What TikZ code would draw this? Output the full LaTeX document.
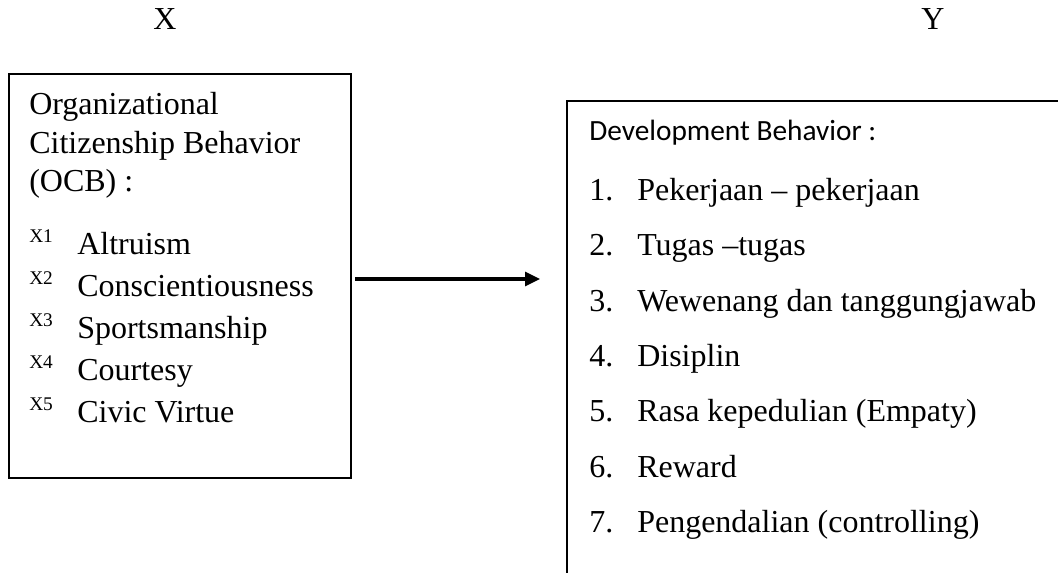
\documentclass[tikz,border=0pt]{standalone}
\usepackage{fontspec}
\setmainfont{Liberation Serif}
\newfontfamily\calfont{Carlito}
\usetikzlibrary{arrows.meta}
\begin{document}
\begin{tikzpicture}[x=0.75pt,y=-0.75pt,
  txt/.style={anchor=base west, inner sep=0pt, font=\fontsize{24}{28}\selectfont},
  lab/.style={anchor=base, inner sep=0pt, font=\fontsize{24}{28}\selectfont},
  supx/.style={anchor=base west, inner sep=0pt, font=\fontsize{14.5}{16}\selectfont},
  cal/.style={anchor=base west, inner sep=0pt, font=\calfont\fontsize{22}{26}\selectfont},
  boxstyle/.style={draw, line width=1.5pt, inner sep=0pt},
  openbox/.style={line width=1.1pt},
  arr/.style={line width=2.3pt, -{Triangle[length=11.25pt,width=10.5pt]}, shorten <=2.25pt}
]
\useasboundingbox (0,0) rectangle (1058,573);

% axis labels
\node[lab] (xlab) at (165,30) {X};
\node[lab] (ylab) at (933,30) {Y};

% left box
\node[boxstyle, minimum width=256.5pt, minimum height=303pt] (lbox) at (180,276) {};
\node[txt] (h1) at (29,115) {Organizational};
\node[txt] (h2) at (29,153.5) {Citizenship Behavior};
\node[txt] (h3) at (29,192) {(OCB) :};
\foreach \t [count=\i] in {Altruism,Conscientiousness,Sportsmanship,Courtesy,Civic Virtue} {
  \node[supx] (xl\i) at (29,{243+42*(\i-1)}) {X\i};
  \node[txt] (it\i) at (77,{255+42*(\i-1)}) {\t};
}

% right (open) box
\coordinate (rtr) at (1062,101);
\coordinate (rtl) at (567,101);
\coordinate (rbl) at (567,577);
\draw[openbox] (rtr) -- (rtl) -- (rbl);
\node[cal] (dev) at (589,141) {Development Behavior :};
\foreach \t [count=\i] in {{Pekerjaan – pekerjaan},{Tugas –tugas},{Wewenang dan tanggungjawab},{Disiplin},{Rasa kepedulian (Empaty)},{Reward},{Pengendalian (controlling)}} {
  \node[txt] (n\i) at (589,{200.7+55.3*(\i-1)}) {\i.};
  \node[txt] (r\i) at (637,{200.7+55.3*(\i-1)}) {\t};
}

% arrow
\coordinate (aend) at (540,279);
\draw[arr] (lbox.east |- aend) -- (aend);
\end{tikzpicture}
\end{document}
